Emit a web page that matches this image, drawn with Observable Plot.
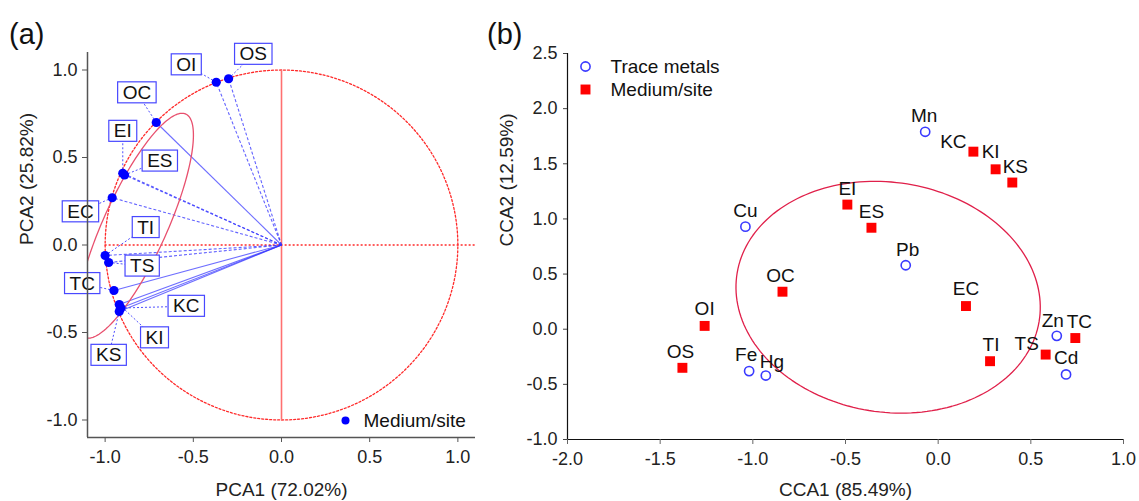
<!DOCTYPE html>
<html><head><meta charset="utf-8">
<script src="https://cdn.jsdelivr.net/npm/d3@7"></script>
<script src="https://cdn.jsdelivr.net/npm/@observablehq/plot@0.6"></script>
<style>
body{margin:0;background:#fff;font-family:"Liberation Sans",Arial,sans-serif;}
#wrap{position:relative;width:1139px;height:501px;overflow:hidden;background:#fff;}
.tag{position:absolute;font-size:29px;color:#111;line-height:1;}
</style></head><body>
<div id="wrap">
<div class="tag" style="left:9px;top:20px">(a)</div>
<div class="tag" style="left:487px;top:20px">(b)</div>
</div>
<script>
// ---------- Panel (a): PCA ----------
const pcaSites  = ["OS","OI","OC","EI","ES","EC","TI","TS","TC","KC","KI","KS"];
const pcaX      = [-0.30,-0.37,-0.71,-0.90,-0.89,-0.96,-1.00,-0.98,-0.95,-0.91,-0.92,-0.92];
const pcaY      = [0.95,0.93,0.70,0.41,0.40,0.27,-0.06,-0.10,-0.26,-0.36,-0.34,-0.38];
const pcaLabelX = [-0.16,-0.54,-0.82,-0.90,-0.69,-1.14,-0.77,-0.79,-1.13,-0.54,-0.72,-0.98];
const pcaLabelY = [1.09,1.03,0.87,0.65,0.48,0.19,0.10,-0.12,-0.22,-0.35,-0.53,-0.63];
const pcaVectorDashed = [true,true,false,true,true,true,true,true,false,false,false,false];
const pcaTicks  = [-1,-0.5,0,0.5,1];
// confidence ellipse: centre x, centre y, semi-major, semi-minor, angle (deg)
const pcaEllipse = [-0.83,0.11,0.70,0.18,65.8];
const pcaCircleRadius = [1];

// ---------- Panel (b): CCA ----------
const metals  = ["Cu","Mn","Pb","Zn","Cd","Fe","Hg"];
const metalX  = [-1.04,-0.07,-0.175,0.64,0.69,-1.02,-0.93];
const metalY  = [0.93,1.79,0.58,-0.06,-0.41,-0.38,-0.42];
const metalLabelDx = [0,-1,2,-4,0,-3,6];
const metalLabelDy = [-16,-16,-15,-15,-17,-16,-14];
const ccaSites = ["KC","KI","KS","EI","ES","EC","TI","TS","TC","OC","OI","OS"];
const ccaX     = [0.19,0.31,0.40,-0.49,-0.36,0.15,0.28,0.58,0.74,-0.84,-1.26,-1.38];
const ccaY     = [1.61,1.45,1.33,1.13,0.92,0.21,-0.29,-0.23,-0.08,0.34,0.03,-0.35];
const ccaLabelDx = [-20,-5,3,0,0,0,1,-19,4,-2,0,-2];
const ccaLabelDy = [-10,-17,-16,-16,-16,-17,-16,-11,-16,-16,-17,-16];
const ccaXTicks = [-2,-1.5,-1,-0.5,0,0.5,1];
const ccaYTicks = [-1,-0.5,0,0.5,1,1.5,2,2.5];
// ellipse: centre x, centre y, radius x, radius y, skew
const ccaEllipse = [-0.27,0.29,0.82,1.05,0.04];

const font = "'Liberation Sans', Arial, sans-serif";
const fmt = d => d.toFixed(1);

// derived geometry
const circlePts = d3.range(0, 361, 2).map(a => ({x: pcaCircleRadius[0]*Math.cos(a*Math.PI/180), y: pcaCircleRadius[0]*Math.sin(a*Math.PI/180)}));
const ellA = (() => {
  const [cx, cy, a, b, ang] = pcaEllipse, th = ang*Math.PI/180;
  return d3.range(0, 361, 2).map(t => { t = t*Math.PI/180;
    return {x: cx + a*Math.cos(t)*Math.cos(th) - b*Math.sin(t)*Math.sin(th),
            y: cy + a*Math.cos(t)*Math.sin(th) + b*Math.sin(t)*Math.cos(th)}; });
})();
const ellB = (() => {
  const [cx, cy, rx, ry, k] = ccaEllipse;
  return d3.range(0, 361, 2).map(t => { t = t*Math.PI/180;
    return {x: cx + rx*Math.cos(t) - k*Math.sin(t), y: cy + ry*Math.sin(t) - k*Math.cos(t)}; });
})();

const pcaRows = pcaSites.map((s,i) => ({site:s, x:pcaX[i], y:pcaY[i], lx:pcaLabelX[i], ly:pcaLabelY[i], dashed:pcaVectorDashed[i]}));
const metalRows = metals.map((s,i) => ({name:s, x:metalX[i], y:metalY[i], dx:metalLabelDx[i], dy:metalLabelDy[i]}));
const siteRows = ccaSites.map((s,i) => ({name:s, x:ccaX[i], y:ccaY[i], dx:ccaLabelDx[i], dy:ccaLabelDy[i]}));

const blue = "#0000ff";
const plotA = Plot.plot({
  width: 490, height: 501, marginLeft: 87, marginRight: 15, marginTop: 52, marginBottom: 64,
  x: {domain: [-1.1, 1.1]}, y: {domain: [-1.1, 1.1]},
  style: {background: "transparent", fontFamily: font, fontSize: "18px", color: "#222", overflow: "visible"},
  marks: [
    Plot.line(circlePts, {x: "x", y: "y", stroke: "#ff2a2a", strokeWidth: 1.3, strokeDasharray: "2,2"}),
    Plot.ruleY([0], {x1: -1, x2: 1.1, stroke: "#ff2a2a", strokeWidth: 1.3, strokeDasharray: "2,2"}),
    Plot.ruleX([0], {y1: -1, y2: 1, stroke: "#ff7070", strokeWidth: 1.6}),
    Plot.link(pcaRows.filter(d => d.dashed), {x1: d => 0, y1: d => 0, x2: "x", y2: "y", stroke: "#3030ff", strokeOpacity: 0.75, strokeWidth: 1.1, strokeDasharray: "3,2"}),
    Plot.link(pcaRows.filter(d => !d.dashed), {x1: d => 0, y1: d => 0, x2: "x", y2: "y", stroke: "#3030ff", strokeOpacity: 0.7, strokeWidth: 1.1}),
    Plot.line(ellA, {x: "x", y: "y", stroke: "#e8506e", strokeWidth: 1.3, clip: true}),
    Plot.link(pcaRows, {x1: "x", y1: "y", x2: "lx", y2: "ly", stroke: "#5050ff", strokeWidth: 1, strokeDasharray: "2,2"}),
    Plot.dot(pcaRows, {x: "x", y: "y", r: 4.6, fill: blue}),
    Plot.text(pcaRows, {x: "lx", y: "ly", text: "site", fontSize: 19, fill: "#111"}),
    Plot.ruleX([-1.1], {stroke: "#555", strokeWidth: 1.5}),
    Plot.ruleY([-1.1], {stroke: "#555", strokeWidth: 1.5}),
    Plot.axisX({ticks: pcaTicks, tickFormat: fmt, tickSize: 5, tickPadding: 8, label: null, stroke: "#555", fill: "#222"}),
    Plot.axisY({ticks: pcaTicks, tickFormat: fmt, tickSize: 5, tickPadding: 5, label: null, stroke: "#555", fill: "#222"}),
    Plot.dot(["Medium/site"], {frameAnchor: "bottom-right", dx: -130, dy: -17, r: 4, fill: blue}),
    Plot.text(["Medium/site"], {frameAnchor: "bottom-right", text: d => d, dx: -112, dy: -17, textAnchor: "start", lineAnchor: "middle", fontSize: 19, fill: "#111"}),
    Plot.text(["PCA1 (72.02%)"], {frameAnchor: "bottom", text: d => d, dy: 52, lineAnchor: "middle", fontSize: 19, fill: "#222"}),
    Plot.text(["PCA2 (25.82%)"], {frameAnchor: "left", text: d => d, dx: -61, rotate: -90, lineAnchor: "middle", fontSize: 19, fill: "#222"})
  ]
});

const labelMarks = rows => rows.map(d => Plot.text([d], {x: "x", y: "y", text: "name", dx: d.dx, dy: d.dy, fontSize: 19, fill: "#111"}));

const plotB = Plot.plot({
  width: 659, height: 501, marginLeft: 87, marginRight: 16, marginTop: 53, marginBottom: 62,
  x: {domain: [-2, 1]}, y: {domain: [-1, 2.5]},
  style: {background: "transparent", fontFamily: font, fontSize: "18px", color: "#222", overflow: "visible"},
  marks: [
    Plot.line(ellB, {x: "x", y: "y", stroke: "#e0204a", strokeWidth: 1.3}),
    Plot.dot(metalRows, {x: "x", y: "y", r: 4.6, stroke: "#3a3aff", strokeWidth: 1.6, fill: "none"}),
    Plot.dot(siteRows, {x: "x", y: "y", r: 5.6, symbol: "square", fill: "#ff0000"}),
    ...labelMarks(metalRows),
    ...labelMarks(siteRows),
    Plot.ruleX([-2], {stroke: "#111", strokeWidth: 1.2}),
    Plot.ruleY([-1], {stroke: "#111", strokeWidth: 1.2}),
    Plot.axisX({ticks: ccaXTicks, tickFormat: fmt, tickSize: 5, tickPadding: 8, label: null, stroke: "#666", fill: "#222"}),
    Plot.axisY({ticks: ccaYTicks, tickFormat: fmt, tickSize: 4, tickPadding: 6, label: null, stroke: "#444", fill: "#222"}),
    Plot.dot(["Trace metals"], {frameAnchor: "top-left", dx: 18, dy: 13, r: 4.6, stroke: "#3a3aff", strokeWidth: 1.6, fill: "none"}),
    Plot.text(["Trace metals"], {frameAnchor: "top-left", text: d => d, dx: 43, dy: 13, textAnchor: "start", lineAnchor: "middle", fontSize: 19, fill: "#111"}),
    Plot.dot(["Medium/site"], {frameAnchor: "top-left", dx: 18, dy: 36, r: 5.6, symbol: "square", fill: "#ff0000"}),
    Plot.text(["Medium/site"], {frameAnchor: "top-left", text: d => d, dx: 43, dy: 36, textAnchor: "start", lineAnchor: "middle", fontSize: 19, fill: "#111"}),
    Plot.text(["CCA1 (85.49%)"], {frameAnchor: "bottom", text: d => d, dy: 50, lineAnchor: "middle", fontSize: 19, fill: "#222"}),
    Plot.text(["CCA2 (12.59%)"], {frameAnchor: "left", text: d => d, dx: -61, rotate: -90, lineAnchor: "middle", fontSize: 19, fill: "#222"})
  ]
});

const wrap = document.getElementById("wrap");
plotA.style.position = "absolute"; plotA.style.left = "0px"; plotA.style.top = "0px";
plotB.style.position = "absolute"; plotB.style.left = "480px"; plotB.style.top = "0px";
wrap.insertBefore(plotA, wrap.firstChild);
wrap.insertBefore(plotB, wrap.firstChild);

// boxed site labels in panel (a)
const siteSet = new Set(pcaSites);
const svgNS = "http://www.w3.org/2000/svg";
plotA.querySelectorAll("text").forEach(t => {
  if (!siteSet.has(t.textContent)) return;
  const b = t.getBBox();
  const r = document.createElementNS(svgNS, "rect");
  r.setAttribute("x", b.x - 5);
  r.setAttribute("y", b.y);
  r.setAttribute("width", b.width + 10);
  r.setAttribute("height", b.height);
  r.setAttribute("fill", "#fff");
  r.setAttribute("stroke", "#4848ff");
  r.setAttribute("stroke-width", "1.2");
  const tr = t.getAttribute("transform");
  if (tr) r.setAttribute("transform", tr);
  t.parentNode.insertBefore(r, t.parentNode.firstChild);
});
</script>
</body></html>
